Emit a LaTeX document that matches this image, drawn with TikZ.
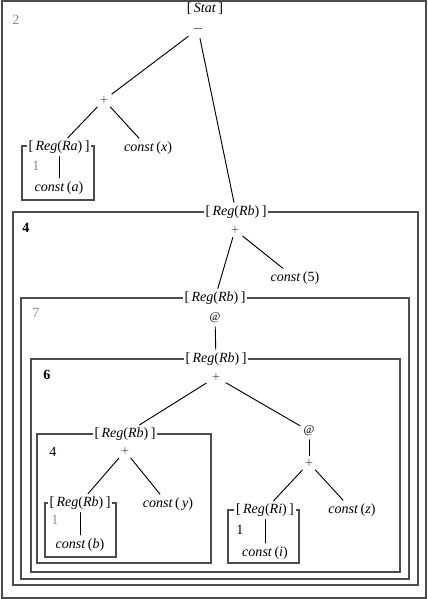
\documentclass[tikz,border=0pt]{standalone}
\usepackage{fontspec}
\setmainfont{Liberation Serif}
\usepackage{tikz}
\usetikzlibrary{positioning}
\definecolor{frameGray}{rgb}{0.3, 0.3, 0.3}
\definecolor{numGray}{rgb}{0.55, 0.55, 0.55}
\newcommand{\regof}[1]{[\,\textit{Reg}(\textit{#1})\,]}
\newcommand{\cst}[1]{\textit{const}\,(\textit{#1})}

\begin{document}
\begin{tikzpicture}[x=0.03cm, y=-0.03cm, style={line cap = round},
  lbl/.style={fill=white, inner sep=1.5pt, font=\large},
  opnode/.style={inner sep=2pt, font=\small},
  leaf/.style={inner sep=2pt, font=\large},
  num/.style={inner sep=0pt, font=\large},
  frame/.style={draw=frameGray, line width=0.9pt},
  tree/.style={line width=0.8pt, shorten <=1pt, shorten >=1pt}]

  \useasboundingbox (0,0) rectangle (428,599);

  % frames
  \draw[frame] (2,1) rectangle (426,598);
  \draw[frame] (22,146) rectangle (94,200);
  \draw[frame] (13,212) rectangle (418,585);
  \draw[frame] (21,298) rectangle (409,579);
  \draw[frame] (31,359) rectangle (400,572);
  \draw[frame] (37,434) rectangle (211,563);
  \draw[frame] (45,503) rectangle (116,557);
  \draw[frame] (228,510) rectangle (299,563);

  % top level
  \node[lbl, anchor=north, inner sep=1pt] (stat) at (205,1.5) {[\,\textit{Stat}\,]};
  \node[opnode, font=\large, inner sep=1pt] (minus) at (198,29) {$-$};
  \node[num, numGray] at (16,20) {2};
  \node[opnode] (plusA) at (104,100) {$+$};
  \node[lbl] (regRa) at (59,147) {\regof{Ra}};
  \node[num, numGray] at (36,166) {1};
  \node[leaf] (cstA) at (59,188) {\cst{a}};
  \node[leaf] (cstX) at (148,148) {\cst{x}};

  % box 4
  \node[lbl] (regB4) at (236,212) {\regof{Rb}};
  \node[num, font=\large\bfseries] at (26,228) {4};
  \node[opnode] (plusB) at (235,230) {$+$};
  \node[leaf] (cst5) at (295,278) {\textit{const}\,(5)};

  % box 7
  \node[lbl] (regB7) at (215,298) {\regof{Rb}};
  \node[num, numGray] at (36,313) {7};
  \node[opnode, font=\normalsize] (atA) at (215,318) {@};

  % box 6
  \node[lbl] (regB6) at (216,359) {\regof{Rb}};
  \node[num, font=\large\bfseries] at (47,375) {6};
  \node[opnode] (plusC) at (216,377) {$+$};

  % left subtree
  \node[lbl] (regL4) at (125,434) {\regof{Rb}};
  \node[num] at (53,452) {4};
  \node[opnode] (plusD) at (125,451) {$+$};
  \node[lbl] (regRb) at (80,503) {\regof{Rb}};
  \node[num, numGray] at (55,520) {1};
  \node[leaf] (cstB) at (80,545) {\cst{b}};
  \node[leaf] (cstY) at (168,504) {\cst{\,y}};

  % right subtree
  \node[opnode, font=\normalsize] (atB) at (309,431) {@};
  \node[opnode] (plusE) at (309,463) {$+$};
  \node[lbl] (regRi) at (265,510) {\regof{Ri}};
  \node[num] at (240,530) {1};
  \node[leaf] (cstI) at (265,553) {\cst{i}};
  \node[leaf] (cstZ) at (352,510) {\cst{z}};

  % edges
  \draw[tree, shorten <=3pt] (minus) -- (plusA);
  \draw[tree, shorten <=3pt] (minus) -- (regB4);
  \draw[tree] (plusA) -- (regRa);
  \draw[tree] (plusA) -- (cstX);
  \draw[tree] (regRa) -- (cstA);
  \draw[tree] (plusB) -- (regB7);
  \draw[tree] (plusB) -- (cst5);
  \draw[tree] (atA) -- (regB6);
  \draw[tree, shorten <=3pt] (plusC) -- (regL4);
  \draw[tree, shorten <=3pt] (plusC) -- (atB);
  \draw[tree] (plusD) -- (regRb);
  \draw[tree] (plusD) -- (cstY);
  \draw[tree] (regRb) -- (cstB);
  \draw[tree] (atB) -- (plusE);
  \draw[tree] (plusE) -- (regRi);
  \draw[tree] (plusE) -- (cstZ);
  \draw[tree] (regRi) -- (cstI);
\end{tikzpicture}
\end{document}
